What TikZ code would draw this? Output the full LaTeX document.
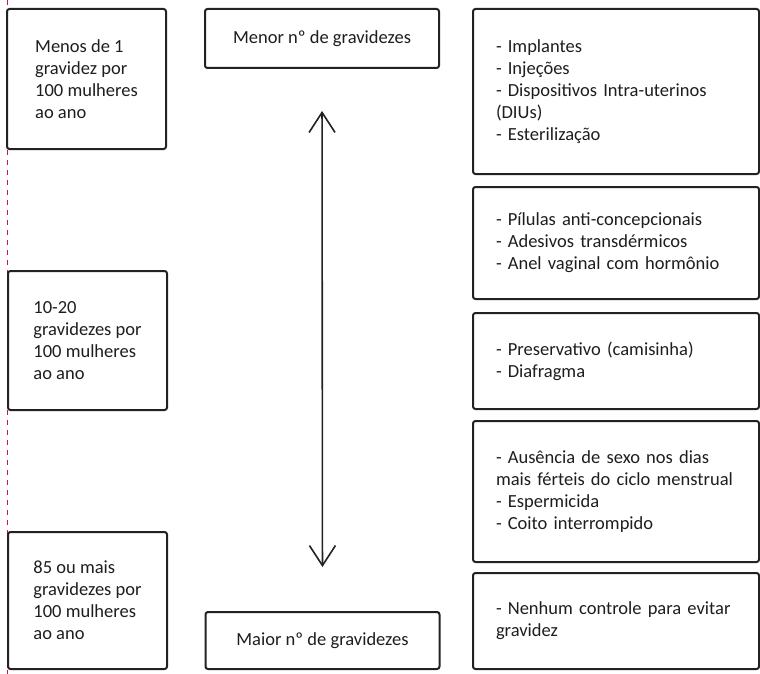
\documentclass[tikz,border=0pt]{standalone}
\usepackage{fontspec}
\setmainfont{Carlito}
\usetikzlibrary{arrows.meta}
\definecolor{boxline}{HTML}{222222}
\definecolor{txt}{HTML}{1E1E1E}
\definecolor{guide}{HTML}{C2185B}
\begin{document}
\begin{tikzpicture}[x=1pt,y=-1pt,
  every node/.style={font=\fontsize{18.5}{22}\selectfont, text=txt},
  basebox/.style={draw=boxline, line width=2pt, rounded corners=2.5pt, inner ysep=0pt},
  leftbox/.style={basebox, minimum width=159pt, align=left, inner xsep=0pt},
  midbox/.style={basebox, minimum width=234pt, align=center},
  rightbox/.style={basebox, minimum width=286pt, text width=240pt, inner xsep=23pt, align=left},
  scalearrow/.style={line width=1.6pt, draw=boxline, {Straight Barb[length=20pt,width=26pt,line width=1.6pt]}-{Straight Barb[length=20pt,width=26pt,line width=1.6pt]}}
]
\useasboundingbox (0,0) rectangle (760,674);
\fill[white] (0,0) rectangle (760,674);

% dashed guide line at the left edge
\coordinate (gtop) at (7.5,0);
\coordinate (gbot) at (7.5,674);
\draw[draw=guide, line width=1.3pt, dash pattern=on 5pt off 5pt] (gtop) -- (gbot);

% left column
\node[leftbox, minimum height=140pt] (l1) at (86.5,79) {Menos de 1\\gravidez por\\100 mulheres\\ao ano};
\node[leftbox, minimum height=139pt] (l2) at (87.5,340.5) {10-20\\gravidezes por\\100 mulheres\\ao ano};
\node[leftbox, minimum height=137pt] (l3) at (87.5,600.5) {85 ou mais\\gravidezes por\\100 mulheres\\ao ano};

% middle column
\node[midbox, minimum height=59pt] (c1) at (322,38.5) {Menor nº de gravidezes};
\node[midbox, minimum height=57pt] (c2) at (322.5,640.5) {Maior nº de gravidezes};
\draw[scalearrow, shorten <=42pt, shorten >=44pt] (c1.south) -- (c2.north);

% right column
\node[rightbox, minimum height=165pt] (r1) at (616,91.5) {- Implantes\\- Injeções\\- Dispositivos Intra-uterinos\\(DIUs)\\- Esterilização};
\node[rightbox, minimum height=112pt] (r2) at (616,243) {- Pílulas anti-concepcionais\\- Adesivos transdérmicos\\- Anel vaginal com hormônio};
\node[rightbox, minimum height=96pt] (r3) at (616,361) {- Preservativo (camisinha)\\- Diafragma};
\node[rightbox, minimum height=141pt] (r4) at (616,491.5) {- Ausência de sexo nos dias\\\mbox{mais férteis do ciclo menstrual}\\- Espermicida\\- Coito interrompido};
\node[rightbox, minimum height=96pt] (r5) at (616,621) {- Nenhum controle para evitar\\gravidez};
\end{tikzpicture}
\end{document}
